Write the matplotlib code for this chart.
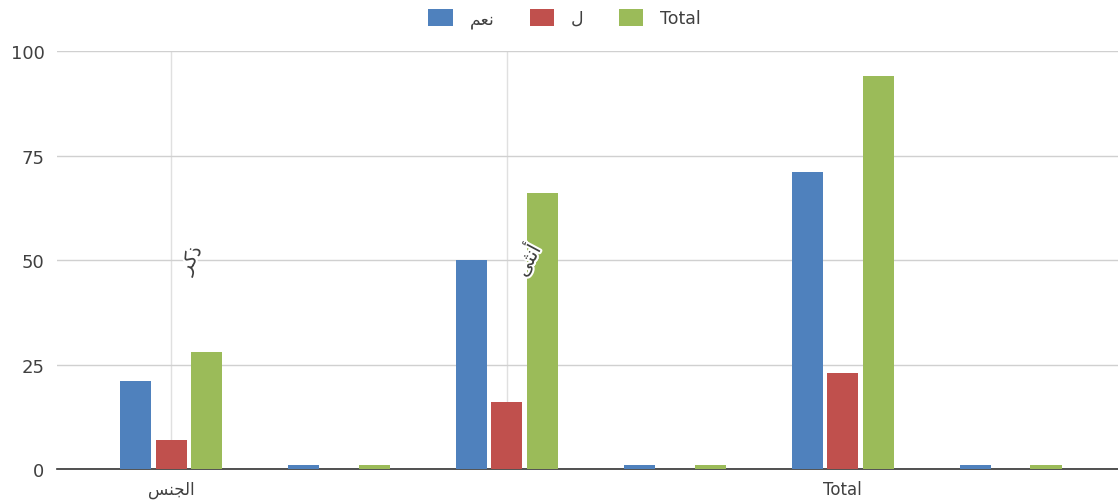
import matplotlib
matplotlib.use("Agg")
import matplotlib.pyplot as plt
import matplotlib.patheffects as pe
from matplotlib.patches import Patch
import numpy as np

# Arabic strings are stored in shaped (presentation-form, visual-order) characters
# so they render joined and right-to-left with matplotlib's plain text engine.
LBL_YES = "\uFEE2\uFECC\uFEE7"            # نعم
LBL_NO = "\u0644"                         # ل
LBL_GENDER = "\uFEB2\uFEE8\uFEA0\uFEDF\uFE8D"   # الجنس
LBL_MALE = "\uFEAE\uFEDB\uFEAB"           # ذكر
LBL_FEMALE = "\uFEF0\uFE9C\uFEE7\uFE83"   # أنثى

series_names = [LBL_YES, LBL_NO, "Total"]
yes_vals = [21, 1, 50, 1, 71, 1]
no_vals = [7, 0, 16, 0, 23, 0]
total_vals = [28, 1, 66, 1, 94, 1]
tick_positions = [0, 4]
tick_labels = [LBL_GENDER, "Total"]
sub_labels = [(0, LBL_MALE), (2, LBL_FEMALE)]
y_ticks = [0, 25, 50, 75, 100]

colors = ["#4F81BD", "#C0504D", "#9BBB59"]
text_color = "#404040"

plt.rcParams["font.family"] = ["DejaVu Sans"]

fig = plt.figure(figsize=(11.18, 5.02), dpi=100)
ax = fig.add_axes([0.051, 0.0637, 0.949, 0.8327])

x = np.arange(len(yes_vals))
width = 0.185
offset = 0.211
for i, vals in enumerate([yes_vals, no_vals, total_vals]):
    ax.bar(x + (i - 1) * offset, vals, width=width, color=colors[i],
           edgecolor="none", zorder=3)

ax.set_xlim(-0.68, 5.64)
ax.set_ylim(0, 100)
ax.set_yticks(y_ticks)
ax.set_yticklabels([str(v) for v in y_ticks], fontsize=13, color=text_color)
ax.tick_params(axis="y", length=0, pad=9)
ax.yaxis.grid(True, color="#d0d0d0", linewidth=1, zorder=0)

ax.set_xticks(tick_positions)
ax.set_xticklabels(tick_labels, fontsize=12, color=text_color)
ax.tick_params(axis="x", length=0, pad=8)

for xp, _ in sub_labels:
    ax.axvline(xp, color="#e0e0e0", linewidth=1, zorder=1)

for xp, txt in sub_labels:
    ax.text(xp + 0.12, 50, txt, rotation=62, ha="center", va="center",
            fontsize=14, color=text_color, zorder=5,
            path_effects=[pe.withStroke(linewidth=3, foreground="white")])

for side in ["left", "right", "top"]:
    ax.spines[side].set_visible(False)
ax.spines["bottom"].set_color("#333333")
ax.spines["bottom"].set_linewidth(1.2)

handles = [Patch(facecolor=c, edgecolor="none") for c in colors]
fig.legend(handles, series_names, loc="center", bbox_to_anchor=(0.505, 0.962),
           ncol=3, frameon=False, fontsize=12.5, handlelength=1.4, handleheight=1.15,
           columnspacing=2.0, handletextpad=1.0, labelcolor=text_color)

fig.savefig("out.png", dpi=100)
